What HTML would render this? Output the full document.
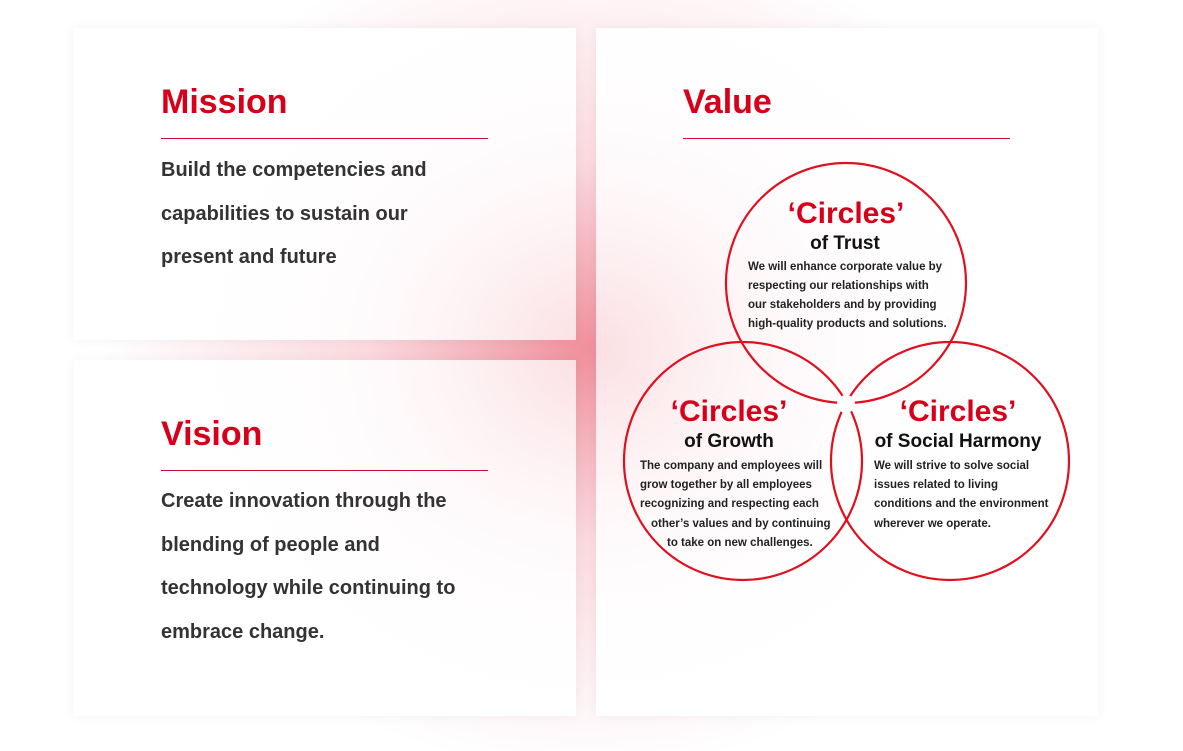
<!DOCTYPE html>
<html><head><meta charset="utf-8"><style>
*{margin:0;padding:0;box-sizing:border-box}
body{width:1183px;height:751px;overflow:hidden;position:relative;font-family:"Liberation Sans",sans-serif;
background:radial-gradient(ellipse 480px 420px at 586px 350px,rgba(230,70,90,0.6),rgba(240,130,150,0.3) 45%,rgba(255,255,255,0) 100%),#fff}
.card{position:absolute;background:radial-gradient(ellipse 460px 420px at var(--cx) var(--cy),rgba(255,255,255,0.7),rgba(255,255,255,0.96) 70%,#fff 100%);box-shadow:0 0 12px rgba(0,0,0,0.05)}
h2{position:absolute;left:87px;font-size:34px;color:#d7001a;font-weight:bold}
.ln{position:absolute;left:87px;width:327px;height:1px;background:#c8102e}
.bd{position:absolute;left:87px;font-size:20px;font-weight:bold;color:#333;line-height:43.7px;width:300px}
svg text{font-family:"Liberation Sans",sans-serif;font-weight:bold}
</style></head><body>
<div class="card" style="left:74px;top:28px;width:502px;height:312px;--cx:520px;--cy:320px">
<h2 style="top:55px">Mission</h2><div class="ln" style="top:110px"></div>
<div class="bd" style="top:121px">Build the competencies and capabilities to sustain our present and future</div></div>
<div class="card" style="left:74px;top:360px;width:502px;height:356px;--cx:520px;--cy:0px">
<h2 style="top:55px">Vision</h2><div class="ln" style="top:110px"></div>
<div class="bd" style="top:120px">Create innovation through the blending of people and technology while continuing to embrace change.</div></div>
<div class="card" style="left:596px;top:28px;width:502px;height:688px;--cx:0px;--cy:322px">
<h2 style="top:55px">Value</h2><div class="ln" style="top:110px"></div></div>
<svg style="position:absolute;left:0;top:0" width="1183" height="751">
<g fill="none" stroke="#e0101e" stroke-width="2.2">
<circle cx="846" cy="283" r="120"/><circle cx="743" cy="461" r="119"/><circle cx="950" cy="461" r="119"/></g>
<circle cx="846" cy="404" r="9" fill="#fff"/>
<g text-anchor="middle" fill="#d7001a" font-size="30"><text x="846" y="223">‘Circles’</text><text x="729" y="421">‘Circles’</text><text x="958" y="421">‘Circles’</text></g>
<g text-anchor="middle" fill="#111" font-size="19"><text x="845" y="249">of Trust</text><text x="729" y="447">of Growth</text><text x="958" y="447">of Social Harmony</text></g>
<g fill="#222" font-size="11.5">
<text x="748" y="270">We will enhance corporate value by</text><text x="748" y="289">respecting our relationships with</text><text x="748" y="308">our stakeholders and by providing</text><text x="748" y="327">high-quality products and solutions.</text>
<text x="640" y="469">The company and employees will</text><text x="640" y="488">grow together by all employees</text><text x="640" y="507">recognizing and respecting each</text><text x="651" y="527">other’s values and by continuing</text><text x="667" y="546">to take on new challenges.</text>
<text x="874" y="469">We will strive to solve social</text><text x="874" y="488">issues related to living</text><text x="874" y="507">conditions and the environment</text><text x="874" y="527">wherever we operate.</text></g>
</svg>
</body></html>
